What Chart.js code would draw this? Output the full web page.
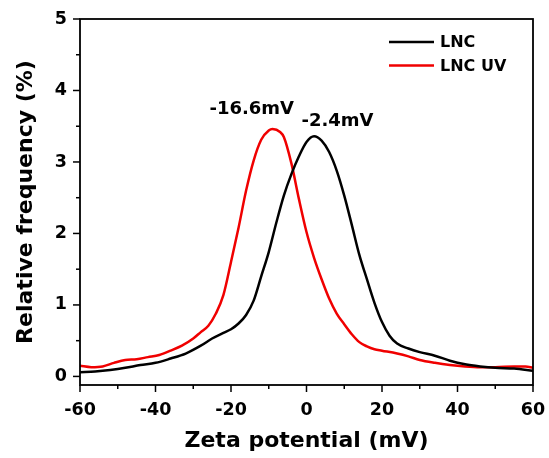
<!DOCTYPE html>
<html>
<head>
<meta charset="utf-8">
<script src="https://cdn.jsdelivr.net/npm/chart.js@4.4.1/dist/chart.umd.min.js"></script>
<style>
  html, body { margin: 0; padding: 0; background: #fff; }
  #wrap { width: 549px; height: 458px; }
</style>
</head>
<body>
<div id="wrap"><canvas id="c" width="549" height="458"></canvas></div>
<script>
// ---- Data ----
const seriesNames = ["LNC", "LNC UV"];
const seriesColors = ["#000000", "#f00000"];

const lncX = [-60,-56,-52,-48,-44,-40,-36,-32,-28,-25,-22,-20,-18,-16,-14,-12,-10,-8,-6,-4,-2,0,2,4,6,8,10,12,14,16,18,20,22,24,27,30,34,38,42,46,50,55,60];
const lncY = [0.06,0.07,0.09,0.12,0.16,0.19,0.25,0.32,0.43,0.53,0.61,0.66,0.74,0.86,1.06,1.40,1.74,2.15,2.53,2.83,3.08,3.28,3.36,3.30,3.14,2.88,2.53,2.12,1.70,1.36,1.03,0.76,0.57,0.46,0.39,0.34,0.29,0.22,0.17,0.14,0.12,0.11,0.08];

const uvX = [-60,-57,-54,-51,-48,-45,-42,-39,-36,-33,-30,-28,-26,-24,-22,-20,-18,-16,-14,-12,-10,-9,-7,-6,-4,-2,0,2,4,6,8,10,12,14,16,18,20,24,27,30,34,38,42,46,50,55,58,60];
const uvY = [0.15,0.13,0.14,0.19,0.23,0.24,0.27,0.30,0.36,0.43,0.53,0.62,0.71,0.88,1.14,1.60,2.08,2.60,3.02,3.31,3.44,3.46,3.42,3.35,2.98,2.48,2.02,1.66,1.36,1.09,0.88,0.73,0.59,0.48,0.42,0.38,0.36,0.32,0.28,0.23,0.19,0.16,0.14,0.13,0.13,0.14,0.14,0.12];

const xTickValues = [-60,-40,-20,0,20,40,60];
const yTickValues = [0,1,2,3,4,5];

const peakLabels = ["-16.6mV", "-2.4mV"];
const peakLabelX = [-14.5, 8.2];
const peakLabelY = [3.73, 3.57];

const xTitle = "Zeta potential (mV)";
const yTitle = "Relative frequency (%)";

// ---- Chart ----
const FONT = "DejaVu Sans";
Chart.defaults.font.family = FONT;
Chart.defaults.color = "#000";

function toPoints(xs, ys) { return xs.map((x, i) => ({ x: x, y: ys[i] })); }

const framePlugin = {
  id: "frame",
  afterDraw(chart) {
    const { ctx, chartArea: a, scales: { x, y } } = chart;
    ctx.save();
    ctx.strokeStyle = "#000";
    ctx.lineWidth = 1.8;
    ctx.strokeRect(a.left, a.top, a.right - a.left, a.bottom - a.top);
    ctx.lineWidth = 1.5;
    for (let i = 0; i < xTickValues.length; i++) {
      const v = xTickValues[i];
      let px = x.getPixelForValue(v);
      ctx.beginPath(); ctx.moveTo(px, a.bottom); ctx.lineTo(px, a.bottom + 7); ctx.stroke();
      if (i < xTickValues.length - 1) {
        const m = (v + xTickValues[i + 1]) / 2;
        px = x.getPixelForValue(m);
        ctx.beginPath(); ctx.moveTo(px, a.bottom); ctx.lineTo(px, a.bottom + 4); ctx.stroke();
      }
    }
    for (let i = 0; i < yTickValues.length; i++) {
      const v = yTickValues[i];
      let py = y.getPixelForValue(v);
      ctx.beginPath(); ctx.moveTo(a.left, py); ctx.lineTo(a.left - 7, py); ctx.stroke();
      if (i < yTickValues.length - 1) {
        const m = (v + yTickValues[i + 1]) / 2;
        py = y.getPixelForValue(m);
        ctx.beginPath(); ctx.moveTo(a.left, py); ctx.lineTo(a.left - 4, py); ctx.stroke();
      }
    }
    ctx.fillStyle = "#000";
    ctx.font = "bold 18px '" + FONT + "'";
    ctx.textAlign = "center";
    ctx.textBaseline = "middle";
    for (let i = 0; i < peakLabels.length; i++) {
      ctx.fillText(peakLabels[i], x.getPixelForValue(peakLabelX[i]), y.getPixelForValue(peakLabelY[i]));
    }
    ctx.font = "bold 16px '" + FONT + "'";
    ctx.textAlign = "left";
    chart.data.datasets.forEach((ds, i) => {
      const ly = 42 + i * 23.5;
      ctx.strokeStyle = ds.borderColor;
      ctx.lineWidth = 2.5;
      ctx.beginPath(); ctx.moveTo(389, ly); ctx.lineTo(434, ly); ctx.stroke();
      ctx.fillStyle = "#000";
      ctx.fillText(ds.label, 440, ly + 1);
    });
    ctx.restore();
  }
};

new Chart(document.getElementById("c"), {
  type: "line",
  data: {
    datasets: [
      { label: seriesNames[0], data: toPoints(lncX, lncY), borderColor: seriesColors[0], borderWidth: 2.5, pointRadius: 0, cubicInterpolationMode: "monotone", fill: false },
      { label: seriesNames[1], data: toPoints(uvX, uvY), borderColor: seriesColors[1], borderWidth: 2.5, pointRadius: 0, cubicInterpolationMode: "monotone", fill: false }
    ]
  },
  options: {
    responsive: false,
    animation: false,
    events: [],
    layout: { padding: { left: 0, right: 16, top: 19, bottom: 0 } },
    plugins: { legend: { display: false }, tooltip: { enabled: false } },
    scales: {
      x: {
        type: "linear", min: -60, max: 60,
        grid: { display: false, drawTicks: false },
        border: { display: false },
        ticks: { font: { size: 17.5, weight: "bold" }, color: "#000", padding: 15, maxRotation: 0, autoSkip: false },
        afterBuildTicks: s => { s.ticks = xTickValues.map(v => ({ value: v })); },
        afterFit: s => { s.height = 73; s.paddingLeft = 0; s.paddingRight = 0; },
        title: { display: true, text: xTitle, font: { size: 22, weight: "bold" }, color: "#000", padding: { top: 0, bottom: 4 } }
      },
      y: {
        type: "linear", min: -0.12, max: 5,
        grid: { display: false, drawTicks: false },
        border: { display: false },
        ticks: { font: { size: 17.5, weight: "bold" }, color: "#000", padding: 13, autoSkip: false },
        afterBuildTicks: s => { s.ticks = yTickValues.map(v => ({ value: v })); },
        afterFit: s => { s.width = 80; s.paddingTop = 0; s.paddingBottom = 0; },
        title: { display: true, text: yTitle, font: { size: 22, weight: "bold" }, color: "#000", padding: { top: 13, bottom: 0 } }
      }
    }
  },
  plugins: [framePlugin]
});
</script>
</body>
</html>
